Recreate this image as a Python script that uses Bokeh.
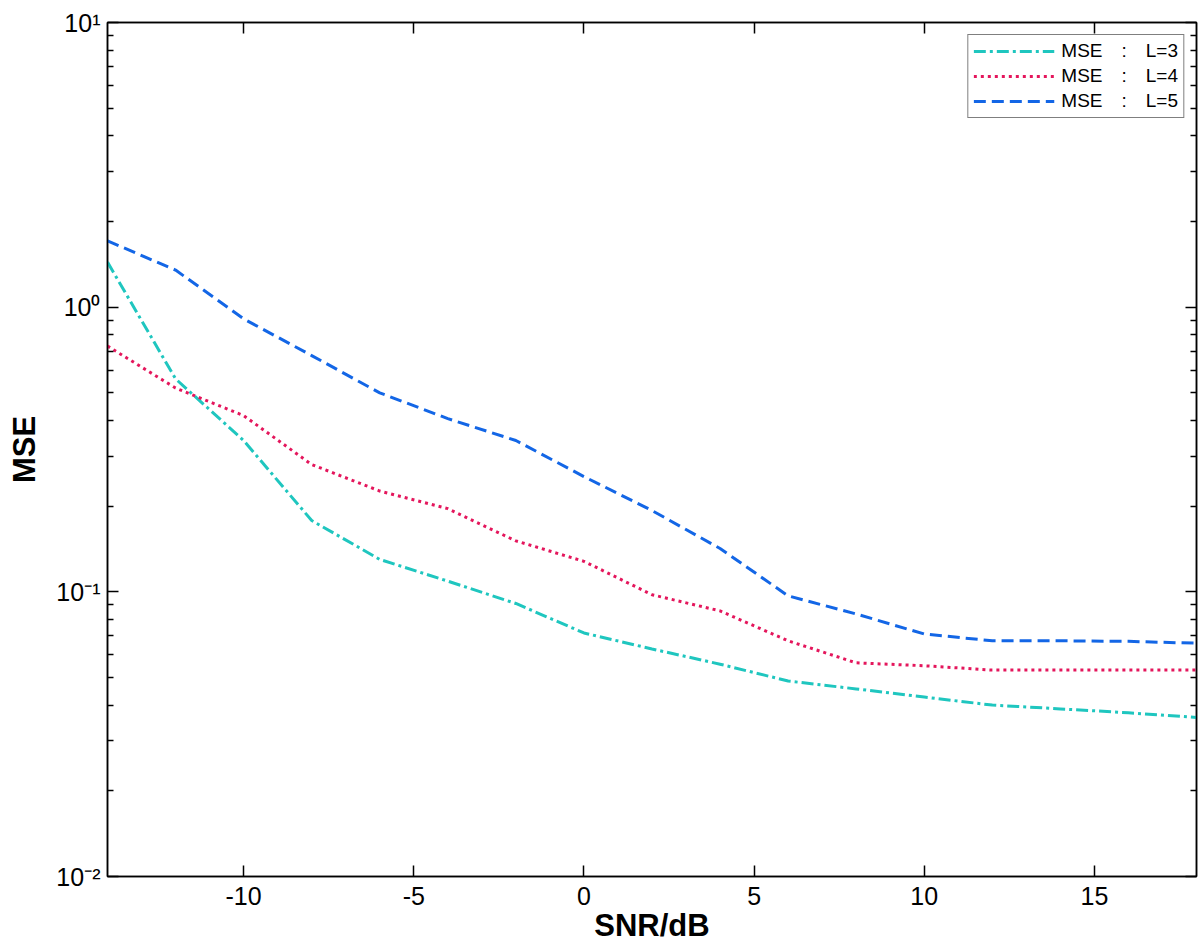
from bokeh.plotting import figure
from bokeh.models import (ColumnDataSource, FixedTicker, LogAxis, LinearAxis,
                          CustomJSTickFormatter, Legend, LegendItem, Range1d)
from bokeh.embed import file_html
from bokeh.resources import INLINE

# ---- data ----
snr = [-14, -12, -10, -8, -6, -4, -2, 0, 2, 4, 6, 8, 10, 12, 14, 16, 18]
mse_l3 = [1.44, 0.56, 0.34, 0.178, 0.130, 0.109, 0.091, 0.0717, 0.063, 0.0557,
          0.0486, 0.0456, 0.0427, 0.0400, 0.0388, 0.0376, 0.0362]
mse_l4 = [0.73, 0.52, 0.416, 0.280, 0.226, 0.196, 0.151, 0.128, 0.0977, 0.0857,
          0.0673, 0.0563, 0.0550, 0.0531, 0.0531, 0.0531, 0.0531]
mse_l5 = [1.71, 1.35, 0.91, 0.676, 0.500, 0.406, 0.340, 0.254, 0.193, 0.142,
          0.0968, 0.0836, 0.0711, 0.0673, 0.0673, 0.0670, 0.0660]
labels = ["MSE\u2003:\u2003L=3", "MSE\u2003:\u2003L=4", "MSE\u2003:\u2003L=5"]
colors = ["#1fc6bf", "#e4165c", "#1366e6"]
dashes = ["12 4 3 4", "3 4", "12 6"]

x_ticks = [-10, -5, 0, 5, 10, 15]
y_ticks = [0.01, 0.1, 1, 10]
y_minor = [m * d for d in [0.01, 0.1, 1] for m in range(2, 10)]

FONT = "Liberation Sans"

p = figure(frame_width=1089, frame_height=854,
           x_range=Range1d(-14, 18), y_range=Range1d(0.01, 10),
           y_axis_type="log", output_backend="svg", toolbar_location=None,
           min_border_left=107, min_border_top=22, min_border_right=4,
           min_border_bottom=76)
p.grid.visible = False
p.outline_line_color = "black"
p.outline_line_width = 1.5
p.background_fill_color = "white"
p.border_fill_color = "white"

sup_js = """
const e = Math.round(Math.log10(tick));
const m = {'-':'\u207b','0':'\u2070','1':'\u00b9','2':'\u00b2','3':'\u00b3'};
return '10' + String(e).split('').map(c => m[c]).join('');
"""

def style_axis(ax):
    ax.axis_line_color = "black"
    ax.axis_line_width = 1.5
    ax.major_tick_in = 11
    ax.major_tick_out = 0
    ax.minor_tick_in = 6
    ax.minor_tick_out = 0
    ax.major_tick_line_width = 1.5
    ax.minor_tick_line_width = 1.5
    ax.major_label_text_font = FONT
    ax.major_label_text_font_size = "25px"
    ax.major_label_text_color = "black"
    ax.axis_label_text_font = FONT
    ax.axis_label_text_font_size = "31px"
    ax.axis_label_text_font_style = "bold"
    ax.axis_label_text_color = "black"

def hide_labels(ax):
    ax.major_label_text_font_size = "1px"
    ax.major_label_text_alpha = 0
    ax.major_label_standoff = 0

xt = FixedTicker(ticks=x_ticks, minor_ticks=[])
yt = FixedTicker(ticks=y_ticks, minor_ticks=y_minor)

xa = p.xaxis[0]
xa.ticker = xt
xa.formatter = CustomJSTickFormatter(code="return String(tick);")
style_axis(xa)
xa.axis_label = "SNR/dB"
xa.major_label_standoff = 10
xa.axis_label_standoff = 0

ya = p.yaxis[0]
ya.ticker = yt
ya.formatter = CustomJSTickFormatter(code=sup_js)
style_axis(ya)
ya.axis_label = "MSE"
ya.major_label_standoff = 7
ya.axis_label_standoff = 11

ra = LogAxis(ticker=FixedTicker(ticks=y_ticks, minor_ticks=y_minor))
style_axis(ra)
hide_labels(ra)
p.add_layout(ra, "right")

ta = LinearAxis(ticker=FixedTicker(ticks=x_ticks, minor_ticks=[]))
style_axis(ta)
hide_labels(ta)
p.add_layout(ta, "above")

items = []
for ys, lab, c, d in zip([mse_l3, mse_l4, mse_l5], labels, colors, dashes):
    src = ColumnDataSource(dict(x=snr, y=ys))
    r = p.line("x", "y", source=src, line_color=c, line_width=3, line_dash=d)
    items.append(LegendItem(label=lab, renderers=[r]))

legend = Legend(items=items, location="top_right")
legend.margin = 12
legend.border_line_color = "black"
legend.border_line_width = 1.5
legend.label_text_font = FONT
legend.label_text_font_size = "19px"
legend.label_text_color = "black"
legend.label_height = 20
legend.glyph_width = 81
legend.glyph_height = 20
legend.spacing = 3
legend.padding = 5
legend.label_standoff = 7
legend.background_fill_alpha = 1
p.add_layout(legend)

open("out.html", "w").write(file_html(p, INLINE))
